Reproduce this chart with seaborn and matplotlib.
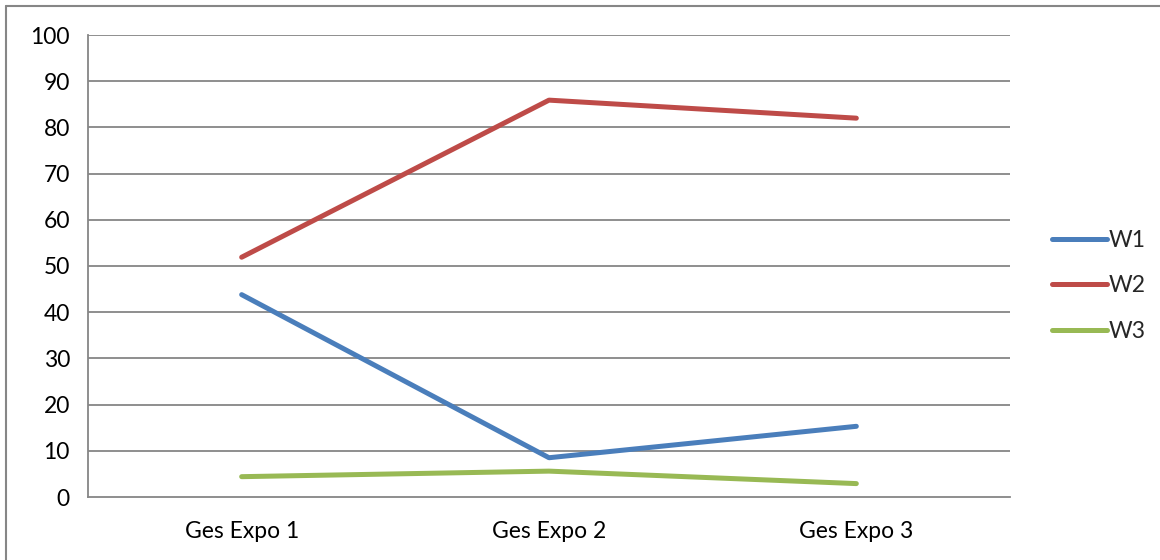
import matplotlib
matplotlib.use("Agg")
import matplotlib.pyplot as plt
import seaborn as sns
import pandas as pd
from matplotlib.lines import Line2D

categories = ["Ges Expo 1", "Ges Expo 2", "Ges Expo 3"]
w1 = [43.8, 8.5, 15.3]
w2 = [51.9, 85.9, 82.0]
w3 = [4.4, 5.6, 2.9]
series_names = ["W1", "W2", "W3"]
colors = ["#4A7EBB", "#BE4B48", "#98B954"]
y_ticks = [0, 10, 20, 30, 40, 50, 60, 70, 80, 90, 100]

df = pd.DataFrame({
    "cat": categories * 3,
    "x": [0, 1, 2] * 3,
    "value": w1 + w2 + w3,
    "series": [s for s in series_names for _ in categories],
})

sns.set_theme(style="white")
plt.rcParams["font.family"] = ["Lato", "DejaVu Sans"]

FS = 16.5
fig = plt.figure(figsize=(11.6, 5.6), dpi=100)
ax = fig.add_axes([88/1160, 63/560, (1010-88)/1160, (497-35)/560])

sns.lineplot(data=df, x="x", y="value", hue="series", palette=colors,
             linewidth=3.6, ax=ax, legend=False, solid_capstyle="round")

grid_c = "#868686"
ax.set_xlim(-0.5, 2.5)
ax.set_ylim(0, 100)
ax.set_yticks(y_ticks)
ax.set_yticklabels([str(t) for t in y_ticks], fontsize=FS, color="black")
ax.set_xticks([0, 1, 2])
ax.set_xticklabels(categories, fontsize=FS, color="black")
ax.set_xticks([-0.5, 0.5, 1.5, 2.5], minor=True)
ax.tick_params(axis="x", which="major", length=0, pad=17)
ax.tick_params(axis="x", which="minor", length=6, width=1.3, color=grid_c, direction="out")
ax.tick_params(axis="y", which="major", length=8, width=1.3, color=grid_c, direction="out", pad=5)
ax.set_xlabel("")
ax.set_ylabel("")
for y in y_ticks[1:]:
    ax.axhline(y, color=grid_c, linewidth=1.3, zorder=0)
for s in ["top", "right"]:
    ax.spines[s].set_visible(False)
for s in ["left", "bottom"]:
    ax.spines[s].set_color(grid_c)
    ax.spines[s].set_linewidth(1.3)

handles = [Line2D([0], [0], color=c, linewidth=3.6, solid_capstyle="round") for c in colors]
leg = fig.legend(handles, series_names, loc="upper left",
                 bbox_to_anchor=(1031/1160, 1 - 209/560), frameon=False,
                 fontsize=FS, handlelength=2.4, handletextpad=0.1,
                 labelspacing=1.08)

# chart border (top and left only visible)
fig.add_artist(Line2D([6/1160, 1.0], [1 - 6/560, 1 - 6/560], transform=fig.transFigure,
                      color=grid_c, linewidth=1.5))
fig.add_artist(Line2D([6/1160, 6/1160], [0.0, 1 - 6/560], transform=fig.transFigure,
                      color=grid_c, linewidth=1.5))

fig.savefig("out.png", dpi=100, facecolor="white")
